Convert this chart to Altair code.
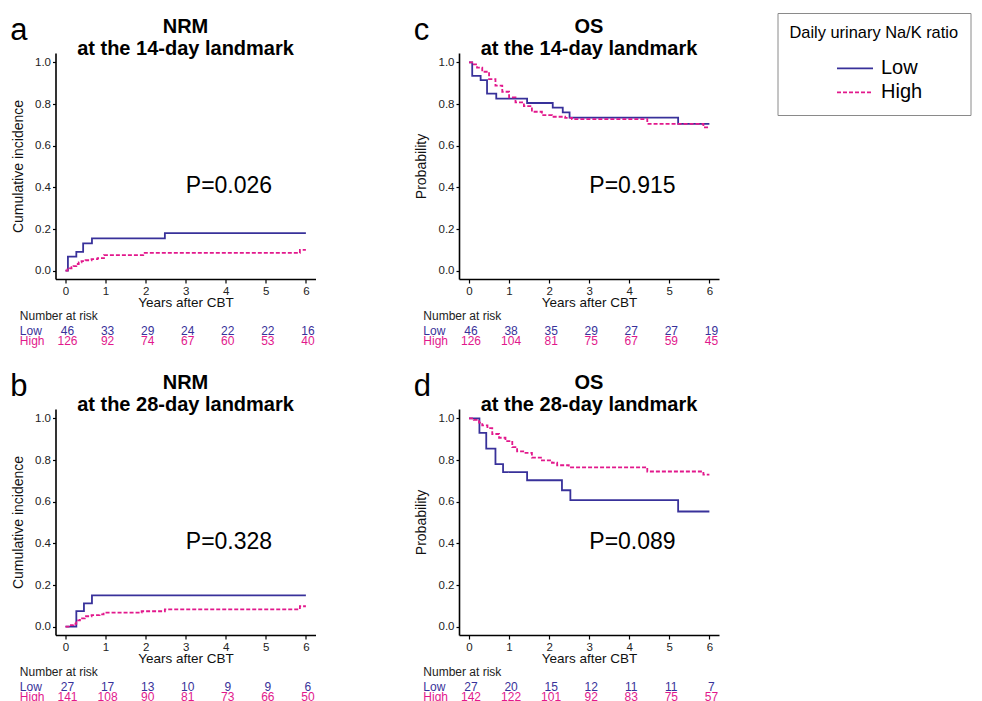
import altair as alt
import pandas as pd

FONT = "Liberation Sans"
LOW_COLOR = "#38319a"
HIGH_COLOR = "#e2188c"
GROUPS = ["Low", "High"]
YEAR_TICKS = [0, 1, 2, 3, 4, 5, 6]
PROB_TICKS = [0.0, 0.2, 0.4, 0.6, 0.8, 1.0]

# ---------------- data ----------------
# a: NRM at the 14-day landmark
a_low_t = [0, 0.06, 0.27, 0.44, 0.66, 2.48, 6.0]
a_low_v = [0, 0.067, 0.090, 0.131, 0.155, 0.180, 0.180]
a_high_t = [0, 0.05, 0.10, 0.15, 0.20, 0.27, 0.33, 0.40, 0.50, 0.65, 0.80, 0.96, 1.94, 5.85, 6.0]
a_high_v = [0, 0.006, 0.011, 0.017, 0.022, 0.032, 0.040, 0.046, 0.050, 0.055, 0.060, 0.075, 0.085, 0.100, 0.100]
a_risk_low = [46, 33, 29, 24, 22, 22, 16]
a_risk_high = [126, 92, 74, 67, 60, 53, 40]

# b: NRM at the 28-day landmark
b_low_t = [0, 0.27, 0.46, 0.66, 6.0]
b_low_v = [0, 0.075, 0.112, 0.150, 0.150]
b_high_t = [0, 0.10, 0.20, 0.27, 0.36, 0.48, 0.65, 0.85, 0.95, 1.90, 2.48, 5.85, 6.0]
b_high_v = [0, 0.007, 0.014, 0.030, 0.040, 0.050, 0.055, 0.059, 0.067, 0.074, 0.083, 0.098, 0.098]
b_risk_low = [27, 17, 13, 10, 9, 9, 6]
b_risk_high = [141, 108, 90, 81, 73, 66, 50]

# c: OS at the 14-day landmark
c_low_t = [0, 0.08, 0.29, 0.45, 0.68, 1.45, 2.09, 2.34, 2.51, 5.22, 6.0]
c_low_v = [1.0, 0.935, 0.915, 0.850, 0.826, 0.805, 0.783, 0.760, 0.735, 0.705, 0.705]
c_high_t = [0, 0.12, 0.20, 0.33, 0.50, 0.66, 0.83, 1.00, 1.16, 1.37, 1.57, 1.82, 2.07, 2.40, 2.57, 4.45, 5.85, 6.0]
c_high_v = [1.0, 0.990, 0.975, 0.955, 0.920, 0.888, 0.859, 0.832, 0.808, 0.790, 0.763, 0.747, 0.739, 0.734, 0.728, 0.705, 0.688, 0.688]
c_risk_low = [46, 38, 35, 29, 27, 27, 19]
c_risk_high = [126, 104, 81, 75, 67, 59, 45]

# d: OS at the 28-day landmark
d_low_t = [0, 0.26, 0.43, 0.66, 0.85, 1.45, 2.32, 2.53, 5.22, 6.0]
d_low_v = [1.0, 0.930, 0.855, 0.780, 0.742, 0.703, 0.655, 0.608, 0.553, 0.553]
d_high_t = [0, 0.12, 0.25, 0.33, 0.46, 0.58, 0.75, 0.91, 1.08, 1.20, 1.41, 1.57, 1.82, 2.07, 2.20, 2.49, 4.45, 5.85, 6.0]
d_high_v = [1.0, 0.993, 0.980, 0.966, 0.953, 0.925, 0.907, 0.891, 0.862, 0.842, 0.834, 0.812, 0.798, 0.787, 0.775, 0.765, 0.745, 0.730, 0.730]
d_risk_low = [27, 20, 15, 12, 11, 11, 7]
d_risk_high = [142, 122, 101, 92, 83, 75, 57]

# ---------------- annotation anchors (data units) ----------------
X_DOMAIN = [-0.25, 6.24]
Y_DOMAIN = [-0.04, 1.045]
P_POS = (4.08, 0.405)
LETTER_POS = (-1.378, 1.108)
ROWLABEL_T = -1.14
HEADER_V = -0.216
LOW_ROW_V = -0.290
HIGH_ROW_V = -0.338

color_enc = alt.Color(
    "group:N",
    scale=alt.Scale(domain=GROUPS, range=[LOW_COLOR, HIGH_COLOR]),
    legend=alt.Legend(
        title="Daily urinary Na/K ratio",
        orient="none",
        legendX=722,
        legendY=-40,
        titleFont=FONT,
        titleFontSize=16.4,
        titleFontWeight="normal",
        titleColor="black",
        titlePadding=17,
        labelFont=FONT,
        labelFontSize=20,
        labelColor="black",
        padding=12,
        strokeColor="#8a8a8a",
        symbolType="M-3.6,0H3.6",
        symbolSize=100,
        symbolStrokeWidth=1.8,
        symbolOffset=55.5,
        labelOffset=16,
        rowPadding=4,
    ),
)
dash_enc = alt.StrokeDash(
    "group:N",
    scale=alt.Scale(domain=GROUPS, range=[[1, 0], [4, 2]]),
    legend=alt.Legend(title="Daily urinary Na/K ratio"),
)


def axis_common(**kw):
    return dict(
        grid=False,
        domainColor="black",
        domainWidth=1.6,
        tickColor="black",
        tickWidth=1.2,
        labelFont=FONT,
        labelColor="#222222",
        titleFont=FONT,
        titleFontWeight="normal",
        titleColor="#111111",
        labelFlush=False,
        **kw,
    )


def panel(letter, head, sub, ylab, pval, low_t, low_v, high_t, high_v, risk_low, risk_high):
    curves = pd.DataFrame({
        "t": low_t + high_t,
        "v": low_v + high_v,
        "group": ["Low"] * len(low_t) + ["High"] * len(high_t),
    })
    x = alt.X(
        "t:Q",
        scale=alt.Scale(domain=X_DOMAIN, nice=False, zero=False),
        axis=alt.Axis(values=YEAR_TICKS, format="d", title="Years after CBT",
                      **axis_common(labelFontSize=11.5, titleFontSize=13.5,
                                    tickSize=4, labelPadding=2, titlePadding=-1)),
    )
    y = alt.Y(
        "v:Q",
        scale=alt.Scale(domain=Y_DOMAIN, nice=False, zero=False),
        axis=alt.Axis(values=PROB_TICKS, format=".1f", title=ylab,
                      **axis_common(labelFontSize=11.5, titleFontSize=14,
                                    tickSize=3, labelPadding=2, titlePadding=9.5)),
    )

    lines = alt.Chart(curves).mark_line(
        interpolate="step-after", strokeWidth=1.8
    ).encode(x=x, y=y, color=color_enc, strokeDash=dash_enc)

    def text_layer(df, **kw):
        return alt.Chart(df).mark_text(font=FONT, **kw).encode(x=x, y=y, text="label:N")

    p_df = pd.DataFrame({"t": [P_POS[0]], "v": [P_POS[1]], "label": [pval]})
    letter_df = pd.DataFrame({"t": [LETTER_POS[0]], "v": [LETTER_POS[1]], "label": [letter]})
    header_df = pd.DataFrame({"t": [ROWLABEL_T], "v": [HEADER_V], "label": ["Number at risk"]})
    rowlab_low = pd.DataFrame({"t": [ROWLABEL_T], "v": [LOW_ROW_V], "label": ["Low"]})
    rowlab_high = pd.DataFrame({"t": [ROWLABEL_T], "v": [HIGH_ROW_V], "label": ["High"]})
    nums_low = pd.DataFrame({"t": YEAR_TICKS, "v": [LOW_ROW_V] * 7, "label": [str(n) for n in risk_low]})
    nums_high = pd.DataFrame({"t": YEAR_TICKS, "v": [HIGH_ROW_V] * 7, "label": [str(n) for n in risk_high]})

    layers = [
        lines,
        text_layer(p_df, fontSize=23, align="center", baseline="middle", color="black"),
        text_layer(letter_df, fontSize=31, align="left", baseline="alphabetic", color="black"),
        text_layer(header_df, fontSize=12, align="left", baseline="middle", color="#222222"),
        text_layer(rowlab_low, fontSize=12, align="left", baseline="middle", color=LOW_COLOR),
        text_layer(rowlab_high, fontSize=12, align="left", baseline="middle", color=HIGH_COLOR),
        text_layer(nums_low, fontSize=12, align="center", baseline="middle", color=LOW_COLOR, dx=2),
        text_layer(nums_high, fontSize=12, align="center", baseline="middle", color=HIGH_COLOR, dx=2),
    ]
    return alt.layer(*layers).properties(
        width=260,
        height=226,
        title=alt.Title(
            text=[head, sub],
            font=FONT,
            fontSize=20,
            fontWeight="bold",
            color="black",
            lineHeight=22,
            anchor="middle",
            frame="group",
            offset=-44,
        ),
    )


pa = panel("a", "NRM", "at the 14-day landmark", "Cumulative incidence", "P=0.026",
           a_low_t, a_low_v, a_high_t, a_high_v, a_risk_low, a_risk_high)
pc = panel("c", "OS", "at the 14-day landmark", "Probability", "P=0.915",
           c_low_t, c_low_v, c_high_t, c_high_v, c_risk_low, c_risk_high)
pb = panel("b", "NRM", "at the 28-day landmark", "Cumulative incidence", "P=0.328",
           b_low_t, b_low_v, b_high_t, b_high_v, b_risk_low, b_risk_high)
pd_ = panel("d", "OS", "at the 28-day landmark", "Probability", "P=0.089",
            d_low_t, d_low_v, d_high_t, d_high_v, d_risk_low, d_risk_high)

chart = alt.concat(
    pa, pc, pb, pd_,
    columns=2,
    spacing={"row": 130, "column": 143.5},
    bounds="flush",
).configure(
    font=FONT,
    padding={"left": 9.5, "top": 12, "right": 0, "bottom": 0},
).configure_view(stroke=None)

chart.save("out.html", embed_options={"renderer": "svg", "actions": False})
